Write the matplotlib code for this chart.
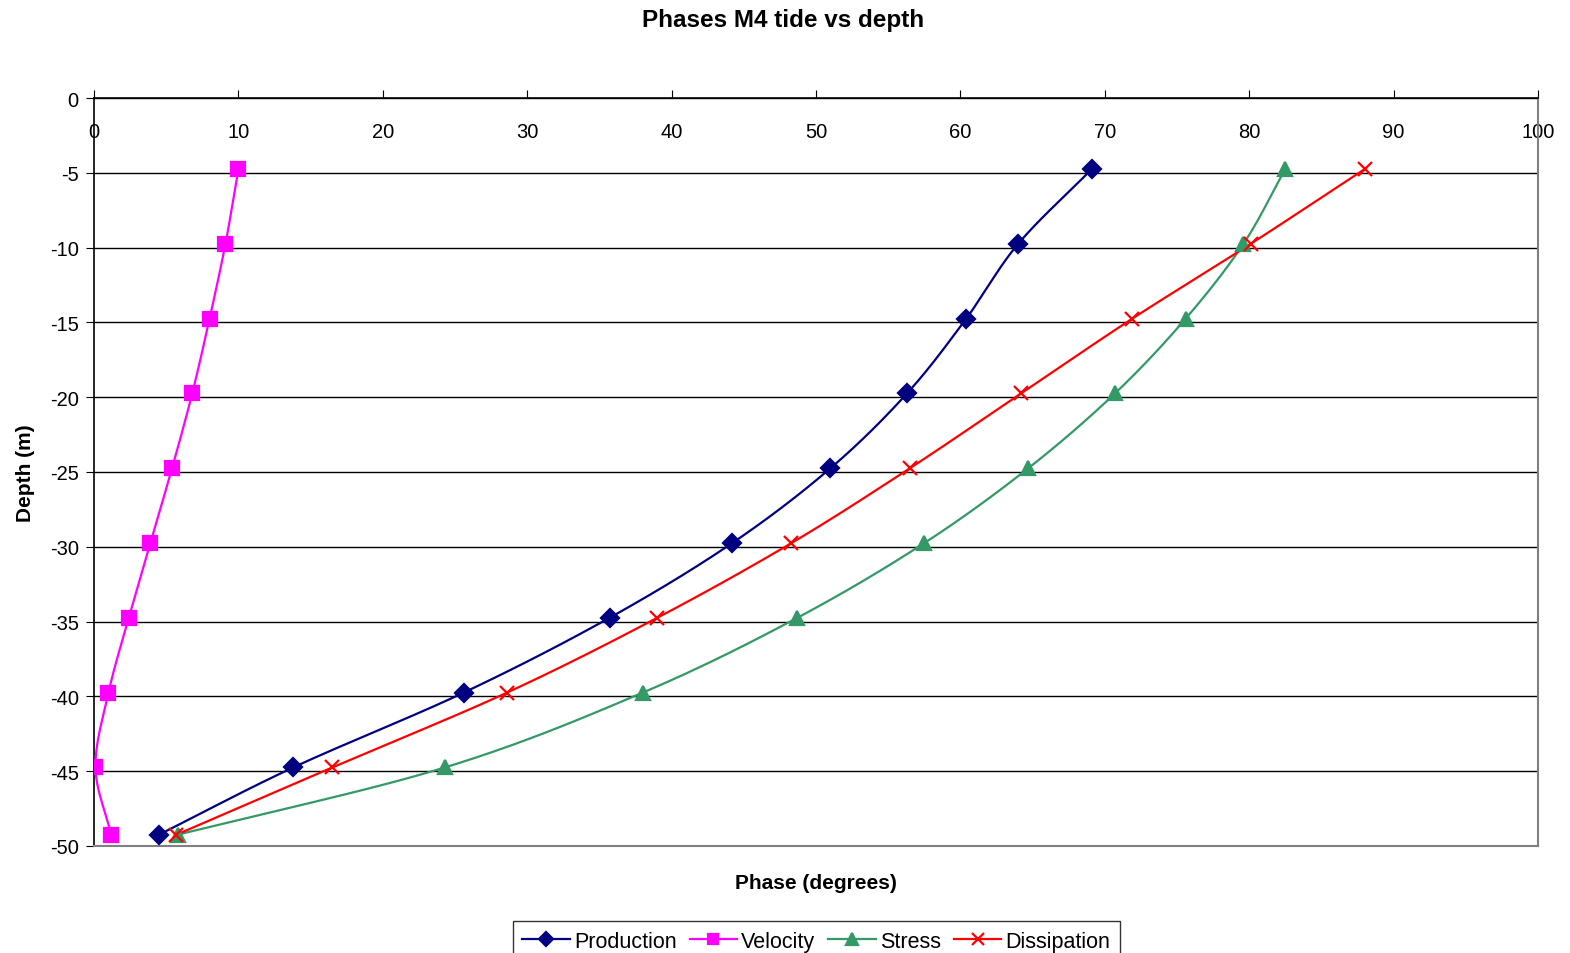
import numpy as np
import matplotlib.pyplot as plt

plt.rcParams['font.family'] = ['Liberation Sans', 'DejaVu Sans']
plt.rcParams['axes.unicode_minus'] = False

depth = [-4.75, -9.75, -14.75, -19.75, -24.75, -29.75, -34.75, -39.75, -44.75, -49.25]
production = [69.1, 64.0, 60.4, 56.3, 51.0, 44.2, 35.7, 25.6, 13.8, 4.5]
velocity = [10.0, 9.1, 8.0, 6.8, 5.4, 3.9, 2.4, 1.0, 0.1, 1.2]
stress = [82.5, 79.6, 75.6, 70.7, 64.7, 57.5, 48.7, 38.0, 24.3, 5.8]
dissipation = [88.0, 80.1, 71.9, 64.2, 56.5, 48.3, 39.0, 28.6, 16.5, 5.7]


def smooth(x, y, n=24):
    # catmull-rom curve through the points, like Excel's smoothed line
    p = np.column_stack([x, y]).astype(float)
    p = np.vstack([2 * p[0] - p[1], p, 2 * p[-1] - p[-2]])
    out = []
    t = np.linspace(0, 1, n)[:, None]
    for i in range(1, len(p) - 2):
        p0, p1, p2, p3 = p[i - 1], p[i], p[i + 1], p[i + 2]
        seg = 0.5 * ((2 * p1) + (-p0 + p2) * t + (2 * p0 - 5 * p1 + 4 * p2 - p3) * t ** 2
                     + (-p0 + 3 * p1 - 3 * p2 + p3) * t ** 3)
        out.append(seg)
    out = np.vstack(out)
    return out[:, 0], out[:, 1]


fig = plt.figure(figsize=(15.7, 9.54), dpi=100)
ax = fig.add_axes([0.0599, 0.1122, 0.9197, 0.784])

series = [
    ('Production', production, '#000080', 'D', 9),
    ('Velocity', velocity, '#FF00FF', 's', 9.5),
    ('Stress', stress, '#339966', '^', 10),
    ('Dissipation', dissipation, '#FF0000', 'x', 10),
]
for name, vals, col, mk, ms in series:
    sx, sy = smooth(vals, depth)
    ax.plot(sx, sy, color=col, lw=1.6, zorder=3)
    ax.plot(vals, depth, ls='none', marker=mk, color=col, ms=ms, mew=1.6, zorder=4)
    ax.plot([], [], color=col, lw=1.6, marker=mk, ms=ms * 0.8, mew=1.6, label=name)

ax.set_xlim(0, 100)
ax.set_ylim(-50, 0)
ax.set_xticks(np.arange(0, 101, 10))
ax.set_yticks(np.arange(-50, 1, 5))
ax.xaxis.tick_top()
ax.tick_params(axis='x', direction='out', length=6, pad=-37, labelsize=14.5, color='black')
ax.tick_params(axis='y', direction='out', length=6, pad=5, labelsize=14.5)
ax.yaxis.grid(True, color='black', lw=1)
ax.set_axisbelow(True)
for s in ['right', 'bottom']:
    ax.spines[s].set_color('#808080')
    ax.spines[s].set_linewidth(1.5)
for s in ['top', 'left']:
    ax.spines[s].set_color('black')
    ax.spines[s].set_linewidth(1.2)

fig.text(0.4987, 0.979, 'Phases M4 tide vs depth', ha='center', va='center',
         fontsize=17.5, fontweight='bold')
fig.text(0.52, 0.0734, 'Phase (degrees)', ha='center', va='center',
         fontsize=15, fontweight='bold')
fig.text(0.016, 0.504, 'Depth (m)', ha='center', va='center', rotation=90,
         fontsize=15, fontweight='bold')

leg = fig.legend(loc='upper center', bbox_to_anchor=(0.52, 0.0335), ncol=4,
                 fontsize=15.5, frameon=True, fancybox=False, edgecolor='black',
                 handlelength=2.2, handletextpad=0.2, columnspacing=0.6,
                 borderpad=0.45, borderaxespad=0)
leg.get_frame().set_linewidth(1.0)

fig.savefig('out.png', dpi=100)
